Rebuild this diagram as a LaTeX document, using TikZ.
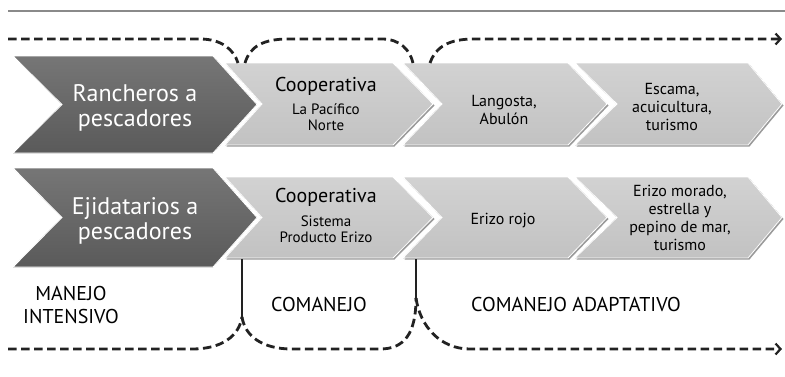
\documentclass[tikz,border=0pt]{standalone}
\usepackage{fontspec}
\setmainfont{PT Sans}
\usetikzlibrary{arrows.meta}
\definecolor{darktop}{HTML}{767676}
\definecolor{darkbot}{HTML}{5A5A5A}
\definecolor{lighttop}{HTML}{D2D2D2}
\definecolor{lightbot}{HTML}{C2C2C2}
\definecolor{shadowc}{HTML}{9A9A9A}
\definecolor{rulec}{HTML}{8A8A8A}
\definecolor{flowc}{HTML}{222222}
\begin{document}
\begin{tikzpicture}[x=1pt,y=-1pt,
  darkchev/.style={top color=darktop, bottom color=darkbot, draw=white, line width=0.8pt},
  lightchev/.style={top color=lighttop, bottom color=lightbot, draw=white, line width=0.8pt},
  chevshadow/.style={fill=shadowc},
  wtext/.style={text=white, align=center, inner sep=0pt, font=\fontsize{24}{25}\selectfont},
  titletext/.style={text=black, align=center, inner sep=0pt, font=\fontsize{20}{22}\selectfont},
  subtext/.style={text=black, align=center, inner sep=0pt, font=\fontsize{15}{16}\selectfont},
  bodytext/.style={text=black, align=center, inner sep=0pt, font=\fontsize{16}{18}\selectfont},
  phasetext/.style={text=black, align=center, inner sep=0pt, font=\fontsize{20}{23}\selectfont},
  flow/.style={draw=flowc, line width=2.8pt, dash pattern=on 8.5pt off 4.5pt},
  flowarrow/.style={flow, -{Straight Barb[length=5pt,width=11pt,line width=2.2pt]}},
  divider/.style={draw=flowc, line width=2.4pt},
  topline/.style={draw=rulec, line width=1.8pt}]
\useasboundingbox (0,0) rectangle (785,376);

% top rule
\coordinate (rl) at (8,11);
\coordinate (rr) at (785,11);
\draw[topline] (rl) -- (rr);

% ---------- chevrons, row 1 ----------
\fill[darkchev] (13,56) -- (213,56) -- (257,104.5) -- (213,153) -- (13,153) -- (62,104.5) -- cycle;
\foreach \l/\n/\r/\t in {225/262/393/433, 403/442/568/607, 575/617/748/782}{
  \fill[chevshadow] (\l+1.5,64.5) -- (\r+1.5,64.5) -- (\t+1.5,105.5) -- (\r+1.5,146.5) -- (\l+1.5,146.5) -- (\n+1.5,105.5) -- cycle;
  \fill[lightchev] (\l,63) -- (\r,63) -- (\t,104) -- (\r,145) -- (\l,145) -- (\n,104) -- cycle;
}
% ---------- chevrons, row 2 ----------
\fill[darkchev] (13,168) -- (213,168) -- (257,217.5) -- (213,267) -- (13,267) -- (62,217.5) -- cycle;
\foreach \l/\n/\r/\t in {225/262/393/433, 403/442/568/607, 575/617/748/782}{
  \fill[chevshadow] (\l+1.5,178.5) -- (\r+1.5,178.5) -- (\t+1.5,219) -- (\r+1.5,259.5) -- (\l+1.5,259.5) -- (\n+1.5,219) -- cycle;
  \fill[lightchev] (\l,177) -- (\r,177) -- (\t,217.5) -- (\r,258) -- (\l,258) -- (\n,217.5) -- cycle;
}

% ---------- texts ----------
\node[wtext] (r1) at (135,108) {Rancheros a\\pescadores};
\node[titletext] (c1t) at (326,86) {Cooperativa};
\node[subtext] (c1s) at (326,117) {La Pacífico\\Norte};
\node[bodytext] (c2) at (504,110) {Langosta,\\Abulón};
\node[bodytext] (c3) at (672,107) {Escama,\\acuicultura,\\turismo};

\node[wtext] (r2) at (135,221) {Ejidatarios a\\pescadores};
\node[titletext] (d1t) at (326,197) {Cooperativa};
\node[subtext] (d1s) at (326,229) {Sistema\\Producto Erizo};
\node[bodytext] (d2) at (503,221) {Erizo rojo};
\node[bodytext] (d3) at (680,218) {Erizo morado,\\estrella y\\pepino de mar,\\turismo};

\node[phasetext] (p1) at (71,305) {MANEJO\\INTENSIVO};
\node[phasetext] (p2) at (319,304) {COMANEJO};
\node[phasetext] (p3) at (576,304) {COMANEJO ADAPTATIVO};

% ---------- top dashed flow ----------
\coordinate (ta0) at (8,39);
\coordinate (ta1) at (238,63);
\coordinate (tb0) at (245,63);
\coordinate (tb1) at (413,63);
\coordinate (tc0) at (430,63);
\coordinate (tc1) at (782,39);
\draw[flow] (ta0) -- (200,39) .. controls (222,39) and (234,50) .. (ta1);
\draw[flow] (tb0) .. controls (250,46) and (264,39) .. (288,39) -- (382,39) .. controls (400,39) and (410,50) .. (tb1);
\draw[flowarrow] (tc0) .. controls (436,46) and (450,39) .. (474,39) -- (tc1);

% ---------- dividers and bottom dashed flow ----------
\coordinate (v1t) at (242,259);
\coordinate (v1b) at (242,317);
\coordinate (v2t) at (416,259);
\coordinate (v2b) at (416,298);
\coordinate (ba0) at (8,349);
\coordinate (bc1) at (782,349);
\draw[divider] (v1t) -- (v1b);
\draw[divider] (v2t) -- (v2b);
\draw[flow] (ba0) -- (192,349) .. controls (222,349) and (239,336) .. (v1b);
\draw[flow] (v1b) .. controls (245,336) and (262,349) .. (292,349) -- (380,349) .. controls (404,349) and (416,334) .. (v2b);
\draw[flowarrow] (v2b) .. controls (420,326) and (440,349) .. (470,349) -- (bc1);
\end{tikzpicture}
\end{document}
